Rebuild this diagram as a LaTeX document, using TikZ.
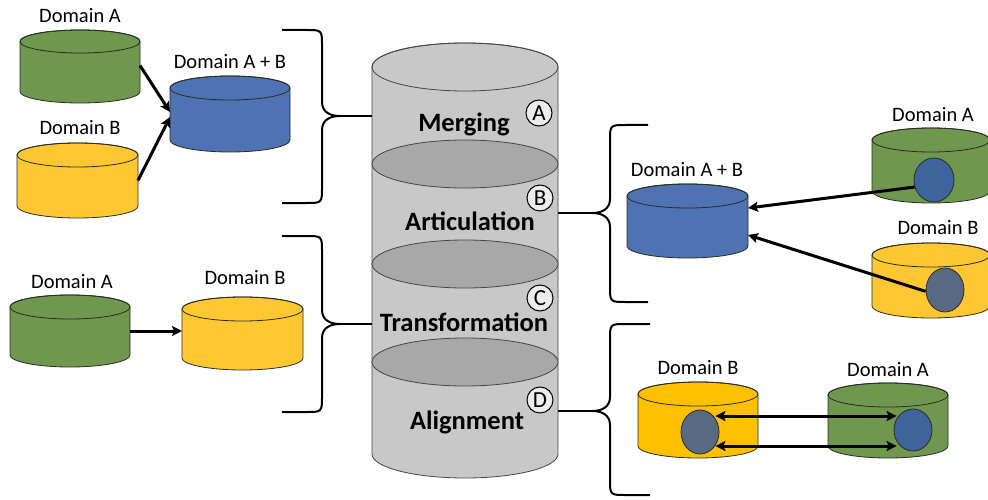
\documentclass[tikz,border=0pt]{standalone}
\usepackage{fontspec}
\setmainfont{Carlito}
\usetikzlibrary{arrows.meta,shapes.geometric}
\definecolor{cgreen}{RGB}{112,151,79}
\definecolor{cyellow}{RGB}{255,200,50}
\definecolor{cyellowb}{RGB}{255,192,0}
\definecolor{cblue}{RGB}{79,114,178}
\definecolor{circblue}{RGB}{62,100,155}
\definecolor{circslate}{RGB}{88,106,130}
\definecolor{bodygray}{RGB}{200,200,200}
\definecolor{sepgray}{RGB}{168,168,168}
\definecolor{lettfill}{RGB}{236,236,236}
\definecolor{cylline}{RGB}{40,45,35}
\definecolor{stackline}{RGB}{70,70,70}
\newcommand\curlybr[7]{%
  \draw[brace] (#2,#4) -- ({#3-#7*16},#4) .. controls (#3,#4) .. (#3,{#4+16})
    -- (#3,{#5-14}) .. controls (#3,{#5-4}) and ({#3+#7*8},#5) .. ({#3+#7*18},#5)
    .. controls ({#3+#7*8},#5) and (#3,{#5+4}) .. (#3,{#5+14})
    -- (#3,{#6-16}) .. controls (#3,#6) .. ({#3-#7*16},#6) -- (#2,#6);
  \coordinate (#1) at ({#3+#7*18},#5);}
\begin{document}
\begin{tikzpicture}[x=1pt,y=-1pt,
  cylbox/.style 2 args={inner sep=0pt, outer sep=0pt, minimum width=#1, minimum height=#2},
  pics/dbcyl/.style n args={4}{code={
    \filldraw[fill=#4, draw=cylline, line width=0.8pt]
      ({-#1pt},{#2pt-#3pt}) -- ({-#1pt},{-#2pt+#3pt})
      arc[start angle=180, end angle=360, x radius=#1pt, y radius=#3pt]
      -- ({#1pt},{#2pt-#3pt})
      arc[start angle=0, end angle=180, x radius=#1pt, y radius=#3pt] -- cycle;
    \draw[cylline, line width=0.8pt] (0pt,{#2pt-#3pt}) ellipse[x radius=#1pt, y radius=#3pt];
  }},
  lab/.style={font=\fontsize{20.5}{24}\selectfont, text height=13.2pt, text depth=0pt, inner sep=0pt},
  seclab/.style={font=\fontsize{26.5}{30}\selectfont\bfseries, text height=17pt, text depth=0pt, inner sep=0pt},
  letcirc/.style={circle, draw=black, line width=1pt, fill=lettfill, inner sep=0pt, minimum size=26pt,
    font=\fontsize{23}{26}\selectfont},
  innerc/.style={ellipse, draw=cylline, line width=0.8pt, inner sep=0pt, minimum width=38pt, minimum height=44pt},
  arr/.style={line width=3pt, -{Stealth[length=10pt,width=10pt,inset=2pt]}},
  darr/.style={line width=3pt, {Stealth[length=10pt,width=10pt,inset=2pt]}-{Stealth[length=10pt,width=10pt,inset=2pt]}},
  brace/.style={line width=2pt, black, line join=round}
]
\useasboundingbox (0,0) rectangle (988,500);

% ---------- central stack ----------
\node[cylbox={186}{435}] (stack) at (465,260.5) {};
\filldraw[fill=bodygray, draw=stackline, line width=0.8pt]
  (372,67) -- (372,454) arc[start angle=180, end angle=360, x radius=93pt, y radius=24pt]
  -- (558,67) arc[start angle=0, end angle=180, x radius=93pt, y radius=24pt] -- cycle;
\draw[stackline, line width=0.8pt] (465,67) ellipse[x radius=93pt, y radius=24pt];
\filldraw[fill=sepgray, draw=stackline, line width=0.8pt] (465,164) ellipse[x radius=93pt, y radius=24pt];
\filldraw[fill=sepgray, draw=stackline, line width=0.8pt] (465,264) ellipse[x radius=93pt, y radius=24pt];
\filldraw[fill=sepgray, draw=stackline, line width=0.8pt] (465,362) ellipse[x radius=93pt, y radius=24pt];

\node[seclab] (lmerg) at (464,123) {Merging};
\node[seclab] (lartc) at (470,222) {Articulation};
\node[seclab] (ltrans) at (464,323) {Transformation};
\node[seclab] (lalign) at (467,421) {Alignment};
\node[letcirc] (cA) at (539,113) {A};
\node[letcirc] (cB) at (540,198) {B};
\node[letcirc] (cC) at (540,298) {C};
\node[letcirc] (cD) at (540,400) {D};

% ---------- braces ----------
\curlybr{brA}{282}{322}{30}{116}{203}{1}
\draw[brace] (brA) -- (brA -| stack.west);
\curlybr{brC}{282}{322}{236}{324}{412}{1}
\draw[brace] (brC) -- (brC -| stack.west);
\curlybr{brB}{648}{610}{125}{213}{302}{-1}
\draw[brace] (brB) -- (brB -| stack.east);
\curlybr{brD}{650}{610}{324}{411}{495}{-1}
\draw[brace] (brD) -- (brD -| stack.east);

% ---------- top left: merging ----------
\node[cylbox={120}{73}] (tlA) at (80,66.5) {};
\pic at (tlA) {dbcyl={60}{36.5}{11.5}{cgreen}};
\node[lab] (tlAl) at (80,16) {Domain A};
\node[cylbox={121}{75}] (tlB) at (77.5,180.5) {};
\pic at (tlB) {dbcyl={60.5}{37.5}{12}{cyellow}};
\node[lab] (tlBl) at (80,128) {Domain B};
\node[cylbox={120}{76}] (tlAB) at (230,114) {};
\pic at (tlAB) {dbcyl={60}{38}{12}{cblue}};
\node[lab] (tlABl) at (230,62) {Domain A + B};
\draw[arr] ([yshift=1pt]tlA.east) -- ([yshift=2pt]tlAB.west);
\draw[arr] (tlB.east) -- ([yshift=-3pt]tlAB.west);

% ---------- middle left: transformation ----------
\node[cylbox={120}{72}] (mlA) at (70,331) {};
\pic at (mlA) {dbcyl={60}{36}{12}{cgreen}};
\node[lab] (mlAl) at (72,282) {Domain A};
\node[cylbox={121}{73}] (mlB) at (242.5,333.5) {};
\pic at (mlB) {dbcyl={60.5}{36.5}{12}{cyellow}};
\node[lab] (mlBl) at (245,278) {Domain B};
\draw[arr] (mlA.east) -- (mlA.east -| mlB.west);

% ---------- top right: articulation ----------
\node[cylbox={121}{74}] (rtAB) at (687.5,221) {};
\pic at (rtAB) {dbcyl={60.5}{37}{12}{cblue}};
\node[lab] (rtABl) at (687,170) {Domain A + B};
\node[cylbox={118}{75}] (rtA) at (931,165.5) {};
\pic at (rtA) {dbcyl={59}{37.5}{12}{cgreen}};
\node[lab] (rtAl) at (933,115) {Domain A};
\node[innerc, fill=circblue, minimum width=40pt] (rtAc) at (934,180) {};
\node[cylbox={118}{75}] (rtB) at (931,280.5) {};
\pic at (rtB) {dbcyl={59}{37.5}{12}{cyellow}};
\node[lab] (rtBl) at (938,228) {Domain B};
\node[innerc, fill=circslate] (rtBc) at (945,290) {};
\draw[arr] (rtAc.200) -- ([yshift=13pt]rtAB.east);
\draw[arr] (rtBc.184) -- ([yshift=-14pt]rtAB.east);

% ---------- bottom right: alignment ----------
\node[cylbox={120}{76}] (rbB) at (698,420) {};
\pic at (rbB) {dbcyl={60}{38}{12}{cyellowb}};
\node[lab] (rbBl) at (698,368) {Domain B};
\node[innerc, fill=circslate] (rbBc) at (700,432) {};
\node[cylbox={120}{75}] (rbA) at (888,420.5) {};
\pic at (rbA) {dbcyl={60}{37.5}{12}{cgreen}};
\node[lab] (rbAl) at (888,370) {Domain A};
\node[innerc, fill=circblue, minimum height=42pt] (rbAc) at (913,430) {};
\draw[darr] ([xshift=-4pt,yshift=16pt]rbBc.east) -- ([xshift=3pt,yshift=14pt]rbAc.west);
\draw[darr] ([xshift=-4pt,yshift=-14pt]rbBc.east) -- ([xshift=3pt,yshift=-16pt]rbAc.west);
\end{tikzpicture}
\end{document}
